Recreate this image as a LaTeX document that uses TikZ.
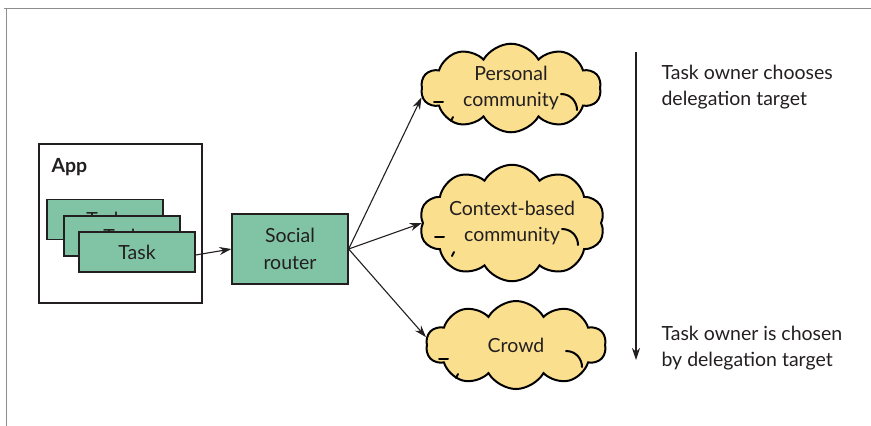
\documentclass[tikz,border=0pt]{standalone}
\usepackage{fontspec}
\setmainfont{Lato}
\usetikzlibrary{shapes.symbols,arrows.meta}
\definecolor{taskgreen}{RGB}{128,196,165}
\definecolor{cloudyellow}{RGB}{250,223,142}
\definecolor{ink}{RGB}{35,31,32}
\definecolor{framegray}{RGB}{140,140,145}
\tikzset{
  txt/.style={font=\fontsize{19.5}{26.5}\selectfont, text=ink},
  greenbox/.style={draw=ink, line width=1.3pt, fill=taskgreen, txt, align=center, inner sep=0pt},
  taskbox/.style={greenbox, minimum width=116pt, minimum height=40pt},
  puff/.style={shape=cloud, cloud puffs=10, cloud puff arc=120, aspect=2.0,
    draw=black, line width=2pt, fill=cloudyellow, txt, align=center,
    minimum width=180pt, minimum height=88pt, inner sep=0pt},
  puffline/.style={draw=black, line width=2pt, line cap=round},
  link/.style={draw=ink, line width=1.1pt, -{Stealth[length=12pt,width=8pt]}},
}
% inner strokes that give each cloud its puffy look
\newcommand{\puffmarks}[1]{%
  \draw[puffline] (#1.center) ++(-77,14) -- ++(9,0);
  \draw[puffline] (#1.center) ++(50,6) .. controls ++(10,0) and ++(0,-8) .. ++(16,16);
  \draw[puffline] (#1.center) ++(-60,33) -- ++(2,-4);
}
\begin{document}
\begin{tikzpicture}[x=1pt,y=-1pt]
\useasboundingbox (0,0) rectangle (871,426);
% page frame
\draw[framegray, line width=1.6pt] (4,8.5) -- (871,8.5);
\draw[framegray, line width=1.6pt] (6.5,8) -- (6.5,426);
% application with its stacked tasks
\node[draw=ink, line width=1.3pt, minimum width=163pt, minimum height=159pt, inner sep=0pt] (app) at (120.5,223.5) {};
\node[txt, font=\fontsize{19.5}{26}\selectfont\bfseries, anchor=west] (applabel) at (48,167) {App};
\node[taskbox] (t1) at (105,219.5) {Task};
\node[taskbox] (t2) at (122,236) {Task};
\node[taskbox] (t3) at (137,252) {Task};
% router
\node[greenbox, minimum width=116pt, minimum height=70pt] (sr) at (290,249) {Social\\router};
% delegation targets
\node[puff] (pc) at (511,88) {Personal\\community};
\node[puff] (cc) at (512,223) {Context-based\\community};
\node[puff] (cr) at (516,345) {Crowd};
\puffmarks{pc}
\puffmarks{cc}
\puffmarks{cr}
% connectors
\draw[link] ([yshift=-3]t3.east) -- (sr.west);
\draw[link] (sr.east) -- (pc.186);
\draw[link] (sr.east) -- (cc.180);
\draw[link] (sr.east) -- (cr.175);
% ownership scale
\coordinate (top) at (636,52);
\coordinate (bottom) at (636,360);
\draw[link] (top) -- (bottom);
\node[txt, anchor=west, align=left] (chooses) at (658,87) {Task owner chooses\\delegation target};
\node[txt, anchor=west, align=left] (chosen) at (658,348) {Task owner is chosen\\by delegation target};
\end{tikzpicture}
\end{document}
